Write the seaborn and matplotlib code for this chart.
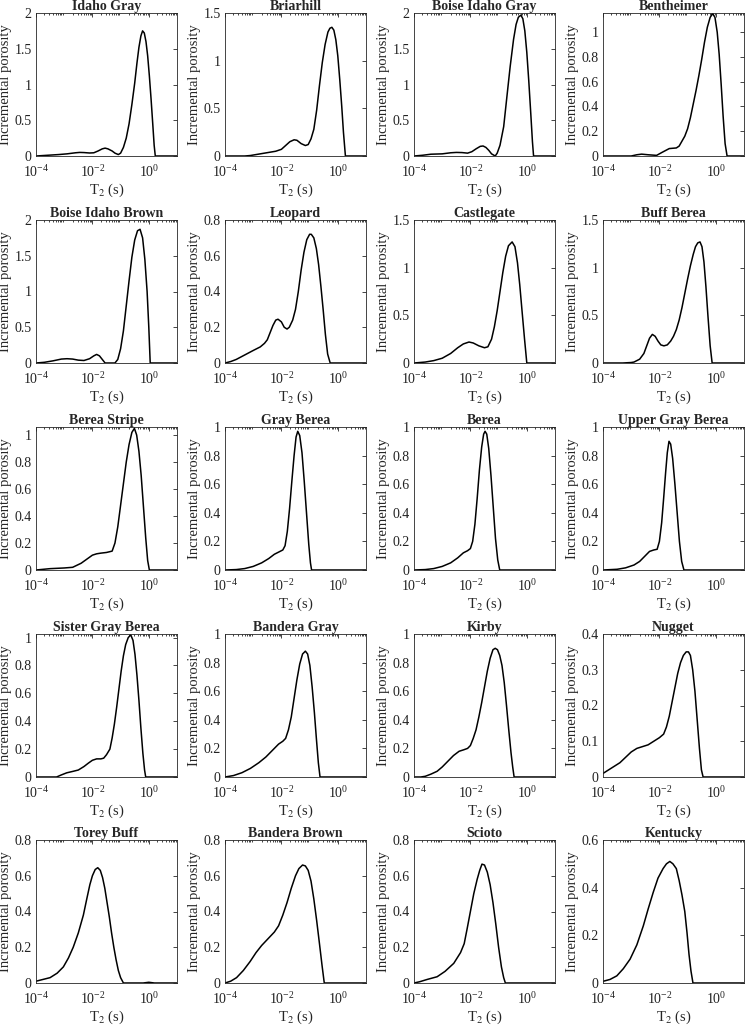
import matplotlib
matplotlib.use("Agg")
import numpy as np
import seaborn as sns
import matplotlib.pyplot as plt
import matplotlib.ticker as mt

# sample names, in panel order (row by row)
names = ["Idaho Gray", "Briarhill", "Boise Idaho Gray", "Bentheimer",
         "Boise Idaho Brown", "Leopard", "Castlegate", "Buff Berea",
         "Berea Stripe", "Gray Berea", "Berea", "Upper Gray Berea",
         "Sister Gray Berea", "Bandera Gray", "Kirby", "Nugget",
         "Torey Buff", "Bandera Brown", "Scioto", "Kentucky"]

# y-axis top and tick step for each panel
ytop = [2, 1.5, 2, 1.155, 2, 0.8, 1.5, 1.5, 1.06, 1, 1, 1, 1.026, 1, 1, 0.4, 0.8, 0.8, 0.8, 0.6]
ystep = [0.5, 0.5, 0.5, 0.2, 0.5, 0.2, 0.5, 0.5, 0.2, 0.2, 0.2, 0.2, 0.2, 0.2, 0.2, 0.1, 0.2, 0.2, 0.2, 0.2]

# T2 distributions: log10(T2 / s) and incremental porosity
idaho_gray_x = [-4, -3.6, -3.2, -2.9, -2.6, -2.45, -2.3, -2.1, -1.95, -1.8, -1.65, -1.55, -1.45, -1.3, -1.2, -1.08,
                -1.0, -0.9, -0.8, -0.7, -0.6, -0.5, -0.42, -0.35, -0.28, -0.22, -0.16, -0.1, -0.04, 0.02, 0.08, 0.14, 0.19, 0.23, 1]
idaho_gray_y = [0, 0.01, 0.02, 0.03, 0.045, 0.05, 0.048, 0.042, 0.045, 0.07, 0.1, 0.11, 0.1, 0.07, 0.04, 0.02,
                0.04, 0.12, 0.25, 0.45, 0.72, 1.02, 1.3, 1.52, 1.68, 1.75, 1.72, 1.6, 1.4, 1.12, 0.8, 0.45, 0.15, 0, 0]

briarhill_x = [-4, -3.3, -3.1, -2.8, -2.5, -2.2, -2.0, -1.85, -1.7, -1.55, -1.45, -1.3, -1.15, -1.05, -0.95, -0.85, -0.75,
               -0.65, -0.55, -0.45, -0.35, -0.28, -0.21, -0.14, -0.07, 0, 0.07, 0.14, 0.2, 0.27, 1]
briarhill_y = [0, 0, 0.005, 0.02, 0.035, 0.05, 0.07, 0.11, 0.15, 0.17, 0.165, 0.13, 0.11, 0.12, 0.18, 0.28, 0.48,
               0.74, 0.98, 1.17, 1.3, 1.34, 1.35, 1.32, 1.22, 1.05, 0.8, 0.52, 0.25, 0, 0]

boise_gray_x = [-4, -3.7, -3.4, -3.0, -2.7, -2.5, -2.3, -2.1, -1.95, -1.8, -1.65, -1.55, -1.45, -1.35, -1.25, -1.12, -1.05,
                -0.95, -0.82, -0.7, -0.59, -0.47, -0.38, -0.3, -0.21, -0.14, -0.07, 0, 0.07, 0.14, 0.2, 0.24, 1]
boise_gray_y = [0, 0.01, 0.025, 0.03, 0.045, 0.05, 0.048, 0.04, 0.06, 0.1, 0.135, 0.14, 0.12, 0.08, 0.03, 0, 0.04,
                0.15, 0.41, 0.85, 1.25, 1.63, 1.84, 1.94, 1.97, 1.92, 1.75, 1.45, 1.05, 0.6, 0.2, 0, 0]

bentheimer_x = [-4, -3, -2.8, -2.63, -2.4, -2.1, -1.9, -1.65, -1.4, -1.3, -1.2, -1.1, -1.0, -0.9, -0.8, -0.7, -0.6, -0.5,
                -0.4, -0.3, -0.2, -0.11, -0.03, 0.05, 0.12, 0.19, 0.26, 0.33, 0.4, 1]
bentheimer_y = [0, 0, 0.01, 0.015, 0.01, 0.005, 0.03, 0.06, 0.065, 0.08, 0.12, 0.16, 0.22, 0.31, 0.42, 0.53, 0.65, 0.78,
                0.92, 1.04, 1.12, 1.15, 1.12, 1.0, 0.82, 0.58, 0.32, 0.1, 0, 0]

boise_brown_x = [-4, -3.7, -3.4, -3.1, -2.9, -2.7, -2.5, -2.3, -2.1, -1.95, -1.85, -1.75, -1.65, -1.55, -1.2, -1.1, -1.0,
                 -0.9, -0.8, -0.7, -0.6, -0.5, -0.4, -0.31, -0.22, -0.14, -0.06, 0.0, 0.05, 1]
boise_brown_y = [0, 0.01, 0.03, 0.055, 0.06, 0.055, 0.04, 0.035, 0.06, 0.1, 0.12, 0.1, 0.05, 0, 0, 0.05, 0.2,
                 0.45, 0.8, 1.15, 1.48, 1.72, 1.85, 1.87, 1.75, 1.45, 1.0, 0.5, 0, 0]

leopard_x = [-4, -3.8, -3.6, -3.3, -3.0, -2.75, -2.6, -2.5, -2.4, -2.3, -2.2, -2.12, -2.0, -1.9, -1.8, -1.72, -1.6, -1.5,
             -1.4, -1.3, -1.2, -1.1, -1.0, -0.94, -0.85, -0.76, -0.68, -0.6, -0.52, -0.44, -0.36, -0.27, 1]
leopard_y = [0, 0.008, 0.02, 0.045, 0.07, 0.09, 0.11, 0.13, 0.17, 0.21, 0.24, 0.245, 0.23, 0.2, 0.19, 0.2, 0.24, 0.3,
             0.4, 0.52, 0.62, 0.69, 0.72, 0.72, 0.7, 0.64, 0.55, 0.43, 0.3, 0.16, 0.05, 0, 0]

castlegate_x = [-4, -3.6, -3.3, -3.0, -2.7, -2.45, -2.25, -2.05, -1.9, -1.7, -1.5, -1.38, -1.25, -1.15, -1.05, -0.95,
                -0.85, -0.75, -0.65, -0.52, -0.42, -0.33, -0.25, -0.17, -0.08, 0.0, 1]
castlegate_y = [0, 0.01, 0.025, 0.05, 0.1, 0.16, 0.2, 0.22, 0.21, 0.18, 0.16, 0.17, 0.25, 0.38, 0.55, 0.75,
                0.95, 1.12, 1.23, 1.27, 1.22, 1.05, 0.82, 0.55, 0.25, 0, 0]

buff_berea_x = [-4, -3.3, -3.0, -2.9, -2.7, -2.55, -2.45, -2.35, -2.25, -2.15, -2.05, -1.95, -1.84, -1.72, -1.6, -1.5,
                -1.4, -1.3, -1.2, -1.1, -1.0, -0.9, -0.8, -0.72, -0.64, -0.56, -0.49, -0.42, -0.35, -0.28, -0.2, -0.13, 1]
buff_berea_y = [0, 0, 0.005, 0.01, 0.04, 0.1, 0.18, 0.26, 0.3, 0.28, 0.23, 0.19, 0.18, 0.19, 0.23, 0.28,
                0.35, 0.45, 0.58, 0.73, 0.88, 1.02, 1.14, 1.22, 1.26, 1.27, 1.22, 1.06, 0.8, 0.5, 0.18, 0, 0]

berea_stripe_x = [-4, -3.5, -3, -2.7, -2.4, -2.2, -2.0, -1.85, -1.7, -1.5, -1.4, -1.3, -1.2, -1.1, -1.0, -0.9, -0.8, -0.7,
                  -0.6, -0.51, -0.43, -0.35, -0.27, -0.19, -0.11, -0.04, 0.02, 1]
berea_stripe_y = [0, 0.01, 0.015, 0.02, 0.05, 0.08, 0.11, 0.12, 0.125, 0.13, 0.135, 0.14, 0.2, 0.32, 0.48, 0.64, 0.8,
                  0.93, 1.02, 1.05, 1.0, 0.88, 0.7, 0.47, 0.24, 0.07, 0, 0]

gray_berea_x = [-4, -3.6, -3.3, -3.0, -2.7, -2.45, -2.25, -2.05, -1.95, -1.87, -1.79, -1.71, -1.63, -1.55, -1.48, -1.42,
                -1.35, -1.27, -1.19, -1.11, -1.03, -0.97, -0.93, 1]
gray_berea_y = [0, 0.003, 0.01, 0.025, 0.05, 0.08, 0.11, 0.13, 0.14, 0.17, 0.27, 0.43, 0.62, 0.8, 0.93, 0.97,
                0.94, 0.82, 0.62, 0.4, 0.18, 0.05, 0, 0]

berea_x = [-4, -3.6, -3.3, -3.0, -2.7, -2.45, -2.25, -2.1, -2.0, -1.92, -1.84, -1.76, -1.68, -1.6, -1.53, -1.48, -1.42,
           -1.35, -1.27, -1.19, -1.11, -1.03, -0.96, 1]
berea_y = [0, 0.003, 0.01, 0.025, 0.05, 0.085, 0.12, 0.135, 0.15, 0.2, 0.32, 0.5, 0.7, 0.86, 0.95, 0.97, 0.95,
           0.85, 0.66, 0.44, 0.22, 0.07, 0, 0]

upper_gray_x = [-4, -3.5, -3.2, -2.9, -2.7, -2.5, -2.35, -2.2, -2.08, -2.0, -1.92, -1.85, -1.78, -1.72, -1.66, -1.6,
                -1.53, -1.45, -1.37, -1.29, -1.21, -1.13, 1]
upper_gray_y = [0, 0.005, 0.015, 0.035, 0.06, 0.1, 0.13, 0.14, 0.145, 0.2, 0.33, 0.5, 0.68, 0.82, 0.9, 0.88,
                0.78, 0.6, 0.4, 0.2, 0.06, 0, 0]

sister_gray_x = [-4, -3.27, -3.1, -2.91, -2.7, -2.5, -2.3, -2.14, -2.0, -1.85, -1.7, -1.6, -1.5, -1.38, -1.3, -1.22,
                 -1.14, -1.06, -0.98, -0.9, -0.82, -0.73, -0.64, -0.56, -0.49, -0.42, -0.35, -0.28, -0.21, -0.15, -0.11, 1]
sister_gray_y = [0, 0, 0.015, 0.03, 0.04, 0.05, 0.075, 0.1, 0.12, 0.13, 0.13, 0.135, 0.16, 0.2, 0.28, 0.38,
                 0.5, 0.63, 0.76, 0.87, 0.95, 1.0, 1.02, 0.98, 0.88, 0.73, 0.55, 0.35, 0.17, 0.05, 0, 0]

bandera_gray_x = [-4, -3.7, -3.4, -3.1, -2.8, -2.55, -2.3, -2.1, -1.95, -1.85, -1.75, -1.65, -1.55, -1.45, -1.35, -1.25,
                  -1.15, -1.07, -0.99, -0.91, -0.83, -0.76, -0.69, -0.63, 1]
bandera_gray_y = [0, 0.01, 0.03, 0.06, 0.1, 0.14, 0.19, 0.23, 0.25, 0.27, 0.33, 0.42, 0.55, 0.68, 0.79, 0.86,
                  0.88, 0.86, 0.78, 0.63, 0.45, 0.27, 0.1, 0, 0]

kirby_x = [-4, -3.76, -3.6, -3.4, -3.18, -3.0, -2.8, -2.6, -2.4, -2.24, -2.1, -2.0, -1.9, -1.8, -1.7, -1.6, -1.5, -1.4,
           -1.3, -1.2, -1.12, -1.04, -0.96, -0.88, -0.8, -0.72, -0.64, -0.56, -0.5, -0.45, 1]
kirby_y = [0, 0, 0.005, 0.02, 0.04, 0.07, 0.11, 0.15, 0.18, 0.19, 0.2, 0.22, 0.27, 0.33, 0.42, 0.52, 0.63, 0.74,
           0.83, 0.89, 0.9, 0.89, 0.85, 0.78, 0.66, 0.5, 0.33, 0.17, 0.07, 0, 0]

nugget_x = [-4, -3.8, -3.6, -3.4, -3.2, -3.0, -2.8, -2.6, -2.4, -2.2, -2.0, -1.85, -1.75, -1.65, -1.55, -1.45, -1.35,
            -1.25, -1.15, -1.05, -0.97, -0.9, -0.82, -0.74, -0.66, -0.58, -0.51, -0.45, 1]
nugget_y = [0.01, 0.02, 0.03, 0.04, 0.055, 0.07, 0.08, 0.085, 0.09, 0.1, 0.11, 0.12, 0.14, 0.17, 0.21, 0.25, 0.29,
            0.32, 0.34, 0.35, 0.35, 0.34, 0.3, 0.24, 0.16, 0.08, 0.02, 0, 0]

torey_buff_x = [-4, -3.75, -3.5, -3.25, -3.03, -2.85, -2.68, -2.5, -2.32, -2.2, -2.09, -2.0, -1.9, -1.81, -1.72, -1.64,
                -1.56, -1.48, -1.4, -1.32, -1.24, -1.16, -1.08, -1.0, -0.9, -0.2, 0.0, 0.2, 1]
torey_buff_y = [0.01, 0.02, 0.03, 0.055, 0.09, 0.14, 0.2, 0.28, 0.38, 0.47, 0.55, 0.6, 0.635, 0.645, 0.63, 0.59,
                0.53, 0.45, 0.37, 0.28, 0.2, 0.13, 0.07, 0.03, 0, 0, 0.004, 0, 0]

bandera_brown_x = [-4, -3.8, -3.59, -3.35, -3.11, -2.9, -2.7, -2.55, -2.4, -2.25, -2.1, -1.95, -1.8, -1.65, -1.5, -1.38,
                   -1.25, -1.15, -1.05, -0.95, -0.85, -0.75, -0.65, -0.56, -0.48, 1]
bandera_brown_y = [0, 0.01, 0.03, 0.07, 0.12, 0.17, 0.21, 0.235, 0.26, 0.285, 0.32, 0.38, 0.45, 0.53, 0.6, 0.64,
                   0.66, 0.655, 0.63, 0.57, 0.47, 0.35, 0.22, 0.1, 0, 0]

scioto_x = [-4, -3.8, -3.53, -3.18, -2.9, -2.59, -2.35, -2.22, -2.12, -2.0, -1.88, -1.76, -1.67, -1.59, -1.5, -1.4,
            -1.3, -1.2, -1.1, -1.0, -0.9, -0.82, -0.76, 1]
scioto_y = [0, 0.007, 0.02, 0.035, 0.065, 0.11, 0.17, 0.22, 0.3, 0.4, 0.5, 0.58, 0.63, 0.665, 0.66, 0.62,
            0.55, 0.45, 0.33, 0.2, 0.09, 0.03, 0, 0]

kentucky_x = [-4, -3.75, -3.51, -3.28, -3.04, -2.8, -2.57, -2.4, -2.22, -2.05, -1.87, -1.75, -1.63, -1.52, -1.4, -1.3,
              -1.2, -1.1, -1.02, -0.95, -0.88, -0.81, 1]
kentucky_y = [0.007, 0.015, 0.03, 0.06, 0.1, 0.16, 0.24, 0.31, 0.38, 0.44, 0.48, 0.5, 0.51, 0.5, 0.48, 0.43,
              0.37, 0.3, 0.21, 0.12, 0.05, 0, 0]

curves = [(idaho_gray_x, idaho_gray_y), (briarhill_x, briarhill_y), (boise_gray_x, boise_gray_y),
          (bentheimer_x, bentheimer_y), (boise_brown_x, boise_brown_y), (leopard_x, leopard_y),
          (castlegate_x, castlegate_y), (buff_berea_x, buff_berea_y), (berea_stripe_x, berea_stripe_y),
          (gray_berea_x, gray_berea_y), (berea_x, berea_y), (upper_gray_x, upper_gray_y),
          (sister_gray_x, sister_gray_y), (bandera_gray_x, bandera_gray_y), (kirby_x, kirby_y),
          (nugget_x, nugget_y), (torey_buff_x, torey_buff_y), (bandera_brown_x, bandera_brown_y),
          (scioto_x, scioto_y), (kentucky_x, kentucky_y)]

sns.set_theme(style="white")
plt.rcParams['font.family'] = ['Liberation Serif', 'DejaVu Serif']
plt.rcParams['mathtext.fontset'] = 'stix'

W, H = 748, 1027
fig = plt.figure(figsize=(W / 100, H / 100), dpi=100)

col_left = [36, 225, 414, 603]
row_top = [13, 220, 427, 634, 840]
aw, ah = 141, 143

for i, name in enumerate(names):
    r, c = divmod(i, 4)
    ax = fig.add_axes([col_left[c] / W, 1 - (row_top[r] + ah) / H, aw / W, ah / H])
    lx, yy = curves[i]
    sns.lineplot(x=10 ** np.array(lx), y=yy, ax=ax, color='black', lw=1.1)
    ax.set_xscale('log')
    ax.set_xlim(1e-4, 10)
    ax.set_ylim(0, ytop[i])
    ax.xaxis.set_major_locator(mt.FixedLocator([1e-4, 1e-2, 1]))
    ax.xaxis.set_minor_locator(mt.LogLocator(base=10, subs=np.arange(2, 10), numticks=20))
    ax.xaxis.set_minor_formatter(mt.NullFormatter())
    ax.yaxis.set_major_locator(mt.MultipleLocator(ystep[i]))
    ax.yaxis.set_major_formatter(mt.FuncFormatter(lambda v, p: f"{v:g}"))
    ax.tick_params(which='both', direction='in', top=True, right=True, labelsize=10,
                   colors='#262626', width=0.6)
    ax.tick_params(which='major', length=3)
    ax.tick_params(which='minor', length=1.6)
    ax.tick_params(axis='x', pad=6)
    ax.tick_params(axis='y', pad=3)
    ax.tick_params(axis='both', labelcolor='#222222')
    for s in ax.spines.values():
        s.set_color('#262626')
        s.set_linewidth(0.6)
    ax.set_title(name, fontsize=10, fontweight='bold', pad=2)
    ax.set_xlabel('T$_2$ (s)', fontsize=10.5, labelpad=1)
    ax.set_ylabel('Incremental porosity', fontsize=10.5, labelpad=2)

fig.savefig('out.png', dpi=100)
